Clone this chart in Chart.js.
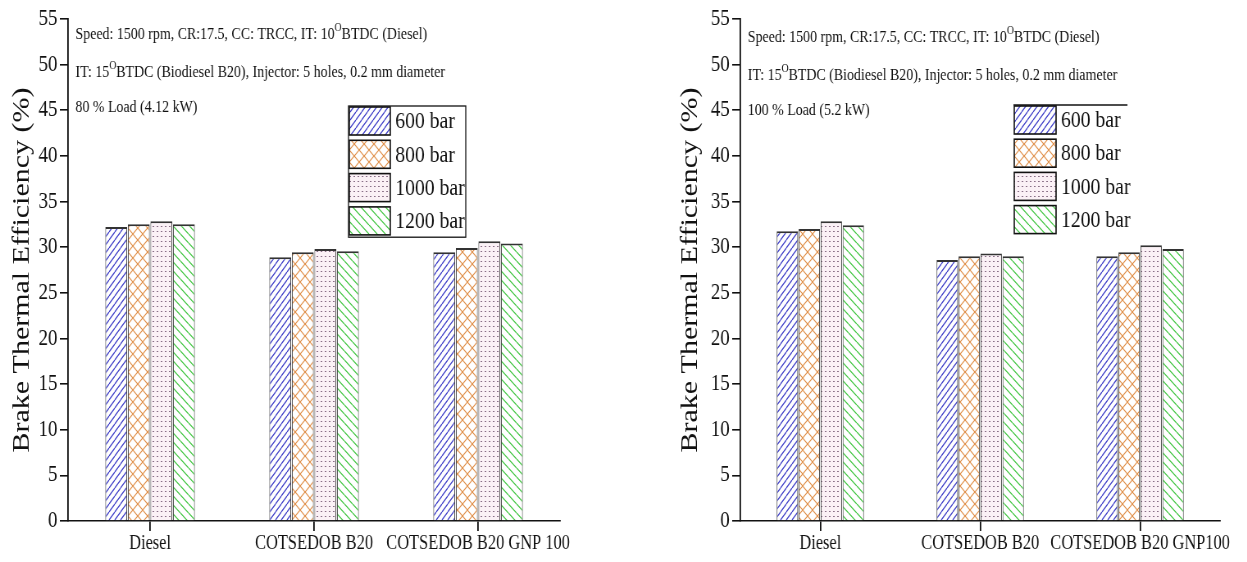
<!DOCTYPE html>
<html>
<head>
<meta charset="utf-8">
<script src="https://cdn.jsdelivr.net/npm/chart.js@4.4.1/dist/chart.umd.min.js"></script>
<style>
  body { margin: 0; background: #fff; width: 1247px; height: 562px; overflow: hidden; position: relative; }
  .box { position: absolute; top: 0; }
  #b1 { left: 0; }
  #b2 { left: 660px; }
  /* the source figure is squeezed horizontally */
  .box canvas { transform: scaleX(0.82); transform-origin: 0 0; }
</style>
</head>
<body>
<div class="box" id="b1"><canvas id="c1" width="756" height="562"></canvas></div>
<div class="box" id="b2"><canvas id="c2" width="716" height="562"></canvas></div>
<script>
// data
const fuels80 = ["Diesel", "COTSEDOB B20", "COTSEDOB B20 GNP 100"];
const fuels100 = ["Diesel", "COTSEDOB B20", "COTSEDOB B20 GNP100"];
const pressures = ["600 bar", "800 bar", "1000 bar", "1200 bar"];
const yMin = 0, yMax = 55, yStep = 5;

const bte80_600 = [32.2, 28.9, 29.45];
const bte80_800 = [32.5, 29.45, 29.9];
const bte80_1000 = [32.85, 29.8, 30.65];
const bte80_1200 = [32.5, 29.55, 30.4];

const bte100_600 = [31.75, 28.6, 29.0];
const bte100_800 = [32.0, 29.0, 29.45];
const bte100_1000 = [32.85, 29.3, 30.2];
const bte100_1200 = [32.4, 29.0, 29.8];

const SERIF = "'Liberation Serif', 'DejaVu Serif', serif";

// hatch patterns
function lines(w, h, color, lw, dir) {
    const c = document.createElement("canvas");
    c.width = w; c.height = h;
    const g = c.getContext("2d");
    g.fillStyle = "#fff";
    g.fillRect(0, 0, w, h);
    g.strokeStyle = color;
    g.lineWidth = lw;
    for (let k = -1; k <= 1; k++) {
        g.beginPath();
        if (dir === "/" || dir === "x") { g.moveTo(k * w, h); g.lineTo((k + 1) * w, 0); }
        if (dir === "\\" || dir === "x") { g.moveTo(k * w, 0); g.lineTo((k + 1) * w, h); }
        g.stroke();
    }
    return g.createPattern(c, "repeat");
}
function dots(w, h, bg, color) {
    const c = document.createElement("canvas");
    c.width = w; c.height = h;
    const g = c.getContext("2d");
    g.fillStyle = bg;
    g.fillRect(0, 0, w, h);
    g.fillStyle = color;
    g.fillRect(1, 1, 2, 1);
    return g.createPattern(c, "repeat");
}

const fills = [
    lines(7, 8, "#3d3dc8", 1.2, "/"),
    lines(12, 12, "#e0904a", 1.2, "x"),
    dots(5, 5, "#fbf1f6", "#8a7088"),
    lines(10, 9, "#3cc43c", 1.2, "\\")
];

// annotation text + legend drawn on the canvas
const notesPlugin = {
    id: "notes",
    afterDraw(chart, args, o) {
        const ctx = chart.ctx;
        ctx.save();
        ctx.fillStyle = "#111";
        ctx.textBaseline = "alphabetic";
        o.lines.forEach((parts, i) => {
            let x = o.x;
            const y = o.ys[i];
            parts.forEach(p => {
                const sup = Array.isArray(p);
                const t = sup ? p[0] : p;
                ctx.font = (sup ? o.size * 0.7 : o.size) + "px " + SERIF;
                ctx.fillText(t, x, sup ? y - o.size * 0.45 : y);
                x += ctx.measureText(t).width;
            });
        });
        const L = o.legend;
        ctx.font = L.size + "px " + SERIF;
        ctx.textBaseline = "middle";
        pressures.forEach((p, i) => {
            const y = L.y + i * L.step;
            ctx.fillStyle = fills[i];
            ctx.fillRect(L.x, y, L.w, L.h);
            ctx.strokeStyle = "#111";
            ctx.lineWidth = 1.6;
            ctx.strokeRect(L.x, y, L.w, L.h);
            ctx.fillStyle = "#111";
            ctx.fillText(p, L.x + L.w + 6, y + L.h / 2 + 1);
        });
        ctx.strokeStyle = "#111";
        ctx.lineWidth = 1.3;
        if (L.box) {
            ctx.strokeRect(L.x - 1, L.y - 1, L.boxW, L.step * 4 - 2);
        } else {
            ctx.beginPath();
            ctx.moveTo(L.x - 1, L.y - 1);
            ctx.lineTo(L.x - 1 + L.boxW, L.y - 1);
            ctx.stroke();
        }
        ctx.restore();
    }
};

function makeChart(id, labels, series, axisW, padRight, titlePad, notes) {
    return new Chart(document.getElementById(id), {
        type: "bar",
        data: {
            labels: labels,
            datasets: pressures.map((p, i) => ({
                label: p,
                data: series[i],
                backgroundColor: fills[i],
                borderColor: "#333",
                borderWidth: { top: 2, left: 1, right: 1, bottom: 0 },
                categoryPercentage: 0.55,
                barPercentage: 0.97
            }))
        },
        options: {
            responsive: false,
            animation: false,
            layout: { padding: { top: 19, right: padRight, bottom: 0, left: 0 } },
            plugins: {
                legend: { display: false },
                tooltip: { enabled: false },
                notes: notes
            },
            scales: {
                x: {
                    afterFit: s => { s.height = 41; },
                    grid: { display: true, drawOnChartArea: false, offset: false, tickLength: 10, color: "#111", lineWidth: 1.8 },
                    border: { display: true, color: "#111", width: 1.6 },
                    ticks: { color: "#111", font: { family: SERIF, size: 20 }, maxRotation: 0, autoSkip: false, padding: 1 }
                },
                y: {
                    min: yMin, max: yMax,
                    afterFit: s => { s.width = axisW; },
                    grid: { drawOnChartArea: false, tickLength: 10, color: "#111", lineWidth: 1.6 },
                    border: { display: true, color: "#111", width: 1.8 },
                    ticks: { stepSize: yStep, color: "#111", font: { family: SERIF, size: 23 }, padding: 3 },
                    title: {
                        display: true,
                        text: "Brake Thermal Efficiency (%)",
                        color: "#111",
                        font: { family: SERIF, size: 30 },
                        padding: { top: titlePad, bottom: 0 }
                    }
                }
            }
        },
        plugins: [notesPlugin]
    });
}

makeChart("c1", fuels80, [bte80_600, bte80_800, bte80_1000, bte80_1200], 83, 73, 9, {
    x: 92, ys: [39, 77, 112], size: 17,
    lines: [
        ["Speed: 1500 rpm, CR:17.5, CC: TRCC, IT: 10", ["O"], "BTDC (Diesel)"],
        ["IT: 15", ["O"], "BTDC (Biodiesel B20), Injector: 5 holes, 0.2 mm diameter"],
        ["80 % Load (4.12 kW)"]
    ],
    legend: { x: 426, y: 107, w: 50, h: 28, step: 33.3, size: 24, box: true, boxW: 143 }
});

makeChart("c2", fuels100, [bte100_600, bte100_800, bte100_1000, bte100_1200], 98, 33, 19, {
    x: 107, ys: [42, 80, 115], size: 17,
    lines: [
        ["Speed: 1500 rpm, CR:17.5, CC: TRCC, IT: 10", ["O"], "BTDC (Diesel)"],
        ["IT: 15", ["O"], "BTDC (Biodiesel B20), Injector: 5 holes, 0.2 mm diameter"],
        ["100 % Load (5.2 kW)"]
    ],
    legend: { x: 432, y: 106, w: 51, h: 28, step: 33.2, size: 24, box: false, boxW: 139 }
});
</script>
</body>
</html>
